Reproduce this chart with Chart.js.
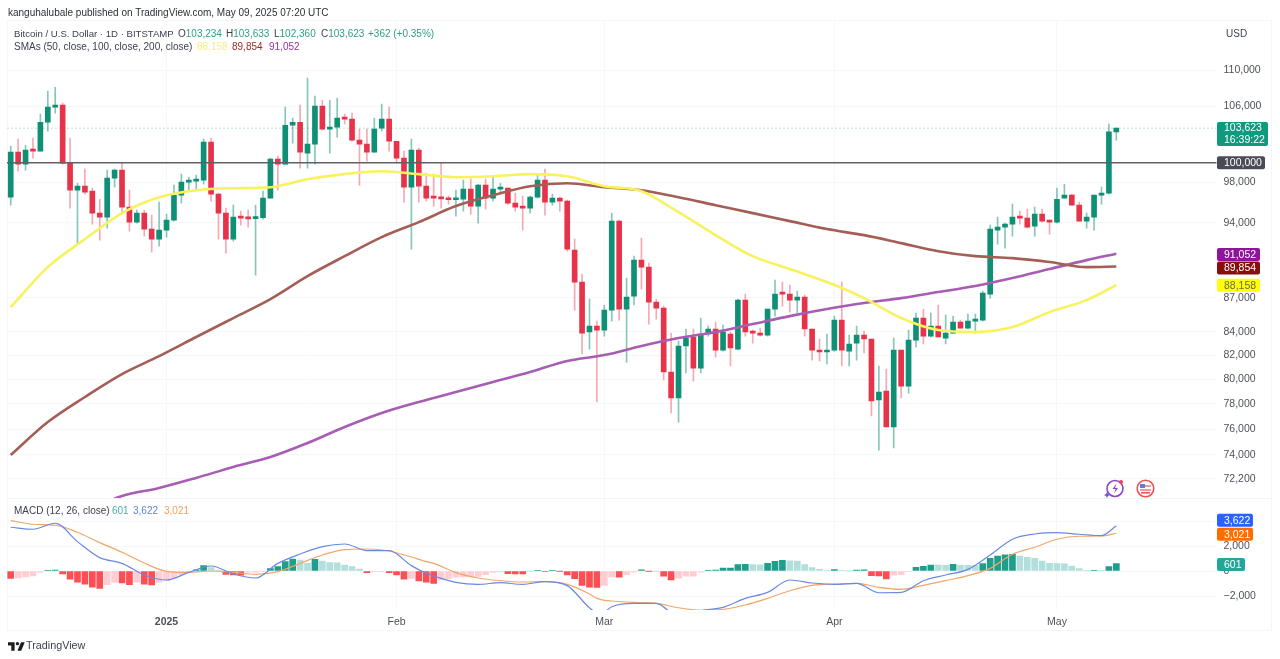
<!DOCTYPE html>
<html lang="en">
<head>
<meta charset="utf-8">
<title>BTC/USD daily</title>
<script src="https://cdn.jsdelivr.net/npm/chart.js@4"></script>
<style>
    html, body { margin: 0; padding: 0; background: #fff; }
    #page { position: relative; width: 1280px; height: 659px; overflow: hidden; font-family: "Liberation Sans", Arial, sans-serif; color: #3d4150; filter: blur(0.35px); }
    #page canvas { position: absolute; left: 0; }
    #priceChart { top: 20px; }
    #macdChart { top: 498px; }
    .txt { position: absolute; white-space: pre; font-size: 10px; line-height: 13px; }
    .up { color: #2f9e85; }
    #frame { position: absolute; left: 7px; top: 20px; width: 1265px; height: 611px; border: 1px solid #f5f6f8; box-sizing: border-box; }
    #divider { position: absolute; left: 7px; top: 498px; width: 1265px; height: 1px; background: #f2f3f6; }
    .icon { position: absolute; }
</style>
</head>
<body>
<div id="page">
    <div id="frame"></div>
    <canvas id="priceChart" width="1280" height="478"></canvas>
    <canvas id="macdChart" width="1280" height="133"></canvas>
    <div id="divider"></div>

    <div class="txt" style="left:8px;top:6px;color:#2c2f3a">kanguhalubale published on TradingView.com, May 09, 2025 07:20 UTC</div>
    <div class="txt" style="left:14px;top:27px;font-size:9.6px">Bitcoin / U.S. Dollar · 1D · BITSTAMP</div>
    <div class="txt" style="left:178px;top:27px">O<span class="up">103,234</span></div>
    <div class="txt" style="left:226px;top:27px">H<span class="up">103,633</span></div>
    <div class="txt" style="left:274px;top:27px">L<span class="up">102,360</span></div>
    <div class="txt" style="left:321px;top:27px">C<span class="up">103,623</span></div>
    <div class="txt up" style="left:368px;top:27px">+362 (+0.35%)</div>
    <div class="txt" style="left:14px;top:40px">SMAs (50, close, 100, close, 200, close)</div>
    <div class="txt" style="left:197px;top:40px;color:#f4ef7a">88,158</div>
    <div class="txt" style="left:232px;top:40px;color:#9c2a2a">89,854</div>
    <div class="txt" style="left:269px;top:40px;color:#93319e">91,052</div>
    <div class="txt" style="left:1226px;top:27px">USD</div>
    <div class="txt" style="left:14px;top:504px">MACD (12, 26, close)</div>
    <div class="txt" style="left:112px;top:504px;color:#45b3a3">601</div>
    <div class="txt" style="left:133px;top:504px;color:#5f7fdc">3,622</div>
    <div class="txt" style="left:164px;top:504px;color:#f0a060">3,021</div>
    <div class="txt" style="left:26px;top:639px;font-size:10.8px">TradingView</div>

    <svg class="icon" style="left:8px;top:641px" width="17" height="10" viewBox="0 0 36 20">
        <path d="M14 20H7V9H0V2h14v18zM28 20h-8l7.5-18h8L28 20z" fill="#1a1d26"/><circle cx="20" cy="5" r="3.6" fill="#1a1d26"/>
    </svg>
    <svg class="icon" style="left:1104px;top:478px" width="21" height="21" viewBox="0 0 21 21">
        <circle cx="11" cy="10.5" r="8" fill="#fff" stroke="#8e44c9" stroke-width="1.6"/>
        <path d="M12.5 5.5L8.5 11h3l-1.5 4.5 4-5.5h-3z" fill="#8e44c9"/>
        <circle cx="17" cy="4" r="2" fill="#ef3f5a"/><path d="M3 14l1 2 2 1-2 1-1 2-1-2-2-1 2-1z" fill="#7a4fd6"/>
    </svg>
    <svg class="icon" style="left:1136px;top:479px" width="19" height="19" viewBox="0 0 19 19">
        <circle cx="9.5" cy="9.5" r="8.3" fill="#fff" stroke="#ef5350" stroke-width="1.6"/>
        <rect x="4" y="6" width="11" height="2" fill="#ef9a9a"/><rect x="4" y="10" width="11" height="2" fill="#ef9a9a"/>
        <rect x="4" y="5" width="5" height="4" fill="#5c7fd8"/><rect x="5" y="13" width="9" height="1.6" fill="#ef5350"/>
    </svg>
</div>

<script>
// --- datos ---
const firstDay = Date.UTC(2024, 11, 11);
const totalSlots = 163;   // 150 velas + hueco a la derecha
const days = [];
for (let d = 0; d < totalSlots; d++) {
    days.push(new Date(firstDay + d * 86400000).toISOString().slice(0, 10));
}
const monthLabels = { '2025-01-01': '2025', '2025-02-01': 'Feb', '2025-03-01': 'Mar', '2025-04-01': 'Apr', '2025-05-01': 'May' };

const opens = [
    96510,101090,99850,101300,101200,104260,105890,106110,99950,97210,
    97610,97110,94940,94550,98420,99240,95530,94060,94940,93390,
    92430,93290,94260,96710,98020,98120,98220,102140,96810,94940,
    92430,94550,94450,94400,94500,96410,100370,99850,103940,104260,
    100990,101930,106000,103520,103730,104700,104590,102350,101930,101090,
    103620,104590,102240,100470,97510,101300,97610,96510,96450,96350,
    96260,96310,97310,95630,97710,96410,97310,97410,95920,95630,
    95430,96510,98220,96020,96410,96120,91390,88430,83990,84510,
    84160,85910,94160,86000,87160,90450,89800,86620,86090,80600,
    78470,82790,83560,80930,83820,84250,82440,83820,82530,86800,
    84070,83900,83730,86000,87430,87340,86800,87070,84250,82440,
    82280,82440,85030,82360,83040,83730,83390,78310,79040,76160,
    82440,79440,83300,85210,83640,84510,83470,83900,84860,84330,
    84940,85030,87340,93290,93580,93870,94550,94450,93680,94840,
    94160,94060,96410,96710,95720,94160,94550,96710,96910,103234
];
const closes = [
    101090,99850,101300,101200,104260,105890,106050,99950,97210,97610,
    97010,94940,94550,98420,99240,95530,94060,94940,93390,92430,
    93290,94260,96710,98020,98120,98220,102140,96810,94940,92430,
    94550,94450,94380,94500,96410,100370,99850,103940,104260,101090,
    101930,106000,103520,103730,104700,104590,102350,101930,101090,103520,
    104590,102240,100470,97510,101300,97610,96410,96410,96350,96260,
    96350,97310,95630,97710,96410,97310,97360,95920,95530,95430,
    96510,98220,96020,96410,96120,91480,88430,83900,84510,84160,
    85910,94160,86000,87070,90450,89800,86620,86090,80600,78470,
    82790,83470,80930,83820,84250,82440,83990,82620,86800,83990,
    83900,83730,86000,87340,87340,86800,87070,84250,82440,82280,
    82440,85030,82440,82960,83730,83390,78230,78960,76160,82440,
    79440,83300,85210,83640,84510,83560,83900,84860,84330,84940,
    85030,87430,93390,93580,93870,94550,94450,93580,94840,94160,
    94060,96310,96710,95720,94160,94550,96710,96910,103230,103623
];
const highs = [
    101720,102460,101820,102560,105130,107650,108090,106330,102560,97910,
    99340,97410,96310,99240,99340,99950,97210,95230,95230,94740,
    96020,94840,97710,98830,98520,98730,102460,102560,96910,95430,
    95720,95130,95230,95720,97110,100470,100680,105890,104700,106110,
    109100,107100,106650,106650,106880,105130,105240,103520,103520,104700,
    106220,105890,102240,101200,102460,101510,98930,98830,99950,96610,
    97210,98220,98320,97810,98320,98620,97910,97410,96910,96610,
    96610,98730,99340,96810,96510,96220,92430,89160,86890,84940,
    86360,94940,94260,88790,90820,92530,90170,86890,86270,83900,
    83210,84250,84250,85210,84510,84860,84590,83990,86890,87340,
    84160,84330,86000,88610,88430,88160,87610,87250,84250,83390,
    83820,85380,88430,83730,84510,84070,83390,81100,80850,83470,
    82440,84160,85650,86000,85650,86360,85470,85380,85030,85560,
    85560,87610,93770,94550,93970,95820,95130,95330,95530,95330,
    94260,97410,97810,96810,96020,94940,96710,97510,104050,103633
];
const lows = [
    95720,99130,99240,100470,101200,103300,105240,99850,95430,91950,
    96810,93870,92330,93480,97510,94940,93190,93970,92720,91200,
    91760,92620,94160,95920,97110,97210,97810,96120,92430,91100,
    92240,93770,93580,89070,94350,96410,97210,99850,102030,99440,
    99440,99850,103410,100990,102670,104050,102240,97710,100160,101090,
    103300,101200,100060,96020,91480,96020,96120,95630,95430,95820,
    94650,95130,94840,93970,95330,96120,96910,95820,95130,93290,
    94940,96410,94740,95720,95130,91290,85910,82110,82530,78150,
    83640,84940,85030,81430,86360,87790,84680,85120,79940,77270,
    76550,80520,79850,80520,83640,81850,82360,81100,82450,83640,
    83040,83640,83640,85380,86270,85730,85650,83640,81600,81520,
    81270,82360,81100,81100,81600,82190,77030,74370,76160,74530,
    78470,78870,82700,82960,83560,83560,82960,83900,84330,84250,
    83900,84940,86980,91950,91580,92720,93870,93480,92720,94060,
    92910,93970,96410,95720,94160,93480,93290,95820,96810,102360
];

// medias moviles, leidas cada 5 velas
const smaIndex = [0,5,10,15,20,25,30,35,40,45,50,55,60,65,70,75,80,85,90,95,100,105,110,115,120,125,130,135,140,145,149];
const sma50 = [86180,89800,92430,94940,96510,97210,97410,97510,98320,98830,99130,98830,98520,98620,98830,98620,97610,97110,95030,92810,90820,89620,88430,86980,85210,84160,83990,84420,85730,86800,88158];
const sma100 = [74000,76550,78550,80430,81930,83560,85210,86890,88970,90820,92620,94060,95630,96710,97610,97910,97510,97210,96510,95720,94940,94160,93390,92810,92050,91290,90820,90640,90270,89800,89854];
const sma200 = [null,null,69820,70930,71520,72270,73090,73840,74910,76160,77270,78150,78960,79770,80600,81520,82020,82790,83470,83990,84680,85380,86000,86540,86980,87520,88070,88790,89620,90450,91052];

const macdHist = [
    -590,-550,-480,-400,-100,30,80,-240,-650,-900,
    -1050,-1300,-1400,-1100,-900,-960,-1100,-900,-1050,-1120,
    -900,-750,-550,-300,-100,100,430,270,60,-270,
    -320,-330,-100,-90,-50,190,350,750,960,880,
    610,930,800,670,660,480,350,160,-140,-30,
    -25,-130,-320,-650,-600,-800,-900,-1000,-720,-600,
    -500,-470,-450,-430,-300,-120,-50,-220,-230,-240,
    -20,30,-20,20,-10,-320,-620,-1150,-1300,-1320,
    -1150,-480,-500,-300,-90,100,-10,-5,-420,-720,
    -580,-420,-410,-90,60,80,230,240,520,530,
    510,500,620,770,850,820,800,520,280,130,
    50,120,20,10,80,90,-370,-400,-640,-340,
    -300,-20,300,370,480,470,460,530,480,460,
    430,590,1010,1200,1300,1330,1200,1100,1010,800,
    610,590,580,400,190,50,60,30,350,601
];
const macdIndex = [0,3,6,9,12,15,18,21,24,27,30,33,36,39,42,45,48,51,54,56,57,60,63,66,69,72,75,78,79,80,81,84,87,90,93,96,99,102,105,108,111,114,117,120,123,126,129,132,135,138,141,144,147,149];
const macdLine = [3500,3340,3820,2350,1070,610,-320,-720,-110,400,-240,-560,610,1360,1950,2160,1630,1630,430,-190,-400,-910,-1070,-930,-1070,-850,-1170,-2940,-3310,-3260,-2860,-2590,-2590,-3660,-3180,-2910,-2190,-1710,-720,-960,-1070,-990,-1740,-1710,-780,-320,130,1280,2540,2960,3070,2940,2830,3622];
const signalLine = [4030,3740,3660,3100,2270,1500,640,-30,-110,0,-110,-270,-50,610,1280,1710,1760,1600,1120,750,610,-130,-560,-770,-880,-850,-1070,-1840,-2190,-2350,-2400,-2510,-2590,-2940,-3150,-3070,-2720,-2190,-1580,-1150,-1040,-990,-1310,-1470,-1150,-770,-370,210,1340,1900,2540,2780,2800,3021];

const priceTicks = [110000,106000,98000,94000,87000,84000,82000,80000,78000,76000,74000,72200];
const macdTicks = [-2000,0,2000,4000];

const priceLine = 100000;
const lastPrice = 103623;
const lastCountdown = '16:39:22';

// --- constantes de estilo ---
const GREEN = '#0f9075';
const RED = '#e7334a';
const GRID = '#f6f7f9';
const TICK_COLOR = '#4d515c';
const FONT = '"Liberation Sans", Arial, sans-serif';
const PLOT_RIGHT = 1216.5;
const fmt = v => Math.abs(v).toLocaleString('en-US');

// --- helpers ---
function linePoints(index, values) {
    return index.map((d, k) => ({ x: days[d], y: values[k] })).filter(p => p.y !== null);
}

function histColor(v, i) {
    const prev = i > 0 ? macdHist[i - 1] : v;
    if (v >= 0) return v >= prev ? '#1f9e8b' : '#b2dfdb';
    return v <= prev ? '#fb4f55' : '#ffcdd2';
}

function drawTag(ctx, tag, y) {
    ctx.fillStyle = tag.bg;
    ctx.beginPath();
    ctx.roundRect(1217, y - tag.h / 2, tag.w, tag.h, 2);
    ctx.fill();
    ctx.fillStyle = tag.fg || '#fff';
    ctx.font = '10.5px ' + FONT;
    ctx.textAlign = 'left';
    ctx.textBaseline = 'middle';
    ctx.fillText(tag.text, 1224, tag.sub ? y - 5.5 : y + 0.5);
    if (tag.sub) ctx.fillText(tag.sub, 1224, y + 6);
}

// eje x comun: un tick por mes, sin margenes extra
function monthAxis(showLabels, height) {
    return {
        type: 'category',
        offset: true,
        grid: { color: GRID, offset: false, drawTicks: false },
        border: { display: false },
        ticks: {
            display: showLabels,
            autoSkip: false,
            maxRotation: 0,
            padding: 6,
            color: TICK_COLOR,
            font: ctx => ({ family: FONT, size: 10.5, weight: ctx.tick && ctx.tick.label === '2025' ? 'bold' : 'normal' }),
            callback(value) { return monthLabels[this.getLabelForValue(value)] || ''; }
        },
        afterBuildTicks(scale) {
            scale.ticks = scale.ticks.filter(t => monthLabels[scale.getLabelForValue(t.value)]);
        },
        afterFit(scale) {
            scale.height = height;
            scale.paddingLeft = 0;
            scale.paddingRight = 0;
        }
    };
}

function valueAxis(extra, ticks, labelFn) {
    return Object.assign({
        position: 'right',
        grid: { color: GRID, drawTicks: false },
        border: { display: false },
        ticks: {
            autoSkip: false,
            crossAlign: 'near',
            padding: 7,
            color: TICK_COLOR,
            font: { family: FONT, size: 10.5 },
            callback: labelFn
        },
        afterBuildTicks(scale) { scale.ticks = ticks.map(v => ({ value: v })); },
        afterFit(scale) {
            scale.width = 1280 - PLOT_RIGHT;
            scale.paddingTop = 0;
            scale.paddingBottom = 0;
        }
    }, extra);
}

const baseOptions = {
    responsive: false,
    animation: false,
    events: [],
    layout: { padding: { left: 7, right: 0, top: 0, bottom: 0 } },
    plugins: { legend: { display: false }, tooltip: { enabled: false } }
};

// linea horizontal de 100,000, linea punteada del ultimo precio y etiquetas del eje
const priceMarks = {
    id: 'priceMarks',
    beforeDatasetsDraw(chart) {
        const { ctx, chartArea, scales } = chart;
        ctx.save();
        ctx.strokeStyle = '#bfe0d8';
        ctx.setLineDash([2, 2]);
        ctx.lineWidth = 1;
        ctx.beginPath();
        ctx.moveTo(chartArea.left, scales.y.getPixelForValue(lastPrice));
        ctx.lineTo(chartArea.right, scales.y.getPixelForValue(lastPrice));
        ctx.stroke();
        ctx.restore();
    },
    afterDraw(chart) {
        const { ctx, chartArea, scales } = chart;
        const y100 = scales.y.getPixelForValue(priceLine);
        ctx.save();
        ctx.strokeStyle = '#5f6068';
        ctx.lineWidth = 1.6;
        ctx.beginPath();
        ctx.moveTo(chartArea.left, y100);
        ctx.lineTo(chartArea.right, y100);
        ctx.stroke();
        const tags = [
            { value: lastPrice, shift: 5.8, text: fmt(lastPrice), sub: lastCountdown, bg: '#0f9a7d', w: 51, h: 24 },
            { value: priceLine, shift: 0, text: fmt(priceLine), bg: '#4a4b57', w: 48, h: 13 },
            { value: sma200[sma200.length - 1], shift: 0.8, text: '91,052', bg: '#8e1599', w: 43, h: 13 },
            { value: sma100[sma100.length - 1], shift: 1.4, text: '89,854', bg: '#880e0e', w: 43, h: 13 },
            { value: sma50[sma50.length - 1], shift: 0.3, text: '88,158', bg: '#ffff00', fg: '#6a6a55', w: 43, h: 13 }
        ];
        tags.forEach(t => drawTag(ctx, t, scales.y.getPixelForValue(t.value) + t.shift));
        ctx.restore();
    }
};

const macdMarks = {
    id: 'macdMarks',
    afterDraw(chart) {
        const { ctx, scales } = chart;
        ctx.save();
        const lastHist = macdHist[macdHist.length - 1];
        const lastMacd = macdLine[macdLine.length - 1];
        const lastSignal = signalLine[signalLine.length - 1];
        const tags = [
            { value: lastMacd, shift: -5.5, text: fmt(lastMacd), bg: '#2962ff', w: 36, h: 13 },
            { value: lastSignal, shift: 1, text: fmt(lastSignal), bg: '#ff6d00', w: 36, h: 13 },
            { value: lastHist, shift: 1, text: fmt(lastHist), bg: '#26a69a', w: 28, h: 13 }
        ];
        tags.forEach(t => drawTag(ctx, t, scales.y.getPixelForValue(t.value) + t.shift));
        ctx.restore();
    }
};

// --- grafico de precio ---
const candleRange = closes.map((_, i) => i);
new Chart(document.getElementById('priceChart'), {
    type: 'bar',
    plugins: [priceMarks],
    data: {
        labels: days,
        datasets: [
            {
                // mechas
                data: candleRange.map(i => [lows[i], highs[i]]),
                backgroundColor: candleRange.map(i => closes[i] >= opens[i] ? 'rgba(15,144,117,0.5)' : 'rgba(231,51,74,0.42)'),
                barThickness: 1,
                grouped: false,
                order: 3
            },
            {
                // cuerpos
                data: candleRange.map(i => [opens[i], closes[i]]),
                backgroundColor: candleRange.map(i => closes[i] >= opens[i] ? GREEN : RED),
                barThickness: 5,
                minBarLength: 2,
                grouped: false,
                order: 2
            },
            { type: 'line', data: linePoints(smaIndex, sma50), borderColor: '#f7f25e', borderWidth: 2.6, pointRadius: 0, cubicInterpolationMode: 'monotone', order: 1 },
            { type: 'line', data: linePoints(smaIndex, sma100), borderColor: '#a45e55', borderWidth: 2.6, pointRadius: 0, cubicInterpolationMode: 'monotone', order: 1 },
            { type: 'line', data: linePoints(smaIndex, sma200), borderColor: '#a75db3', borderWidth: 2.6, pointRadius: 0, cubicInterpolationMode: 'monotone', order: 1 }
        ]
    },
    options: {
        ...baseOptions,
        scales: {
            x: monthAxis(false, 0),
            y: valueAxis({ type: 'logarithmic', min: 70788, max: 115843 }, priceTicks, v => fmt(v))
        }
    }
});

// --- grafico MACD ---
new Chart(document.getElementById('macdChart'), {
    type: 'bar',
    plugins: [macdMarks],
    data: {
        labels: days,
        datasets: [
            {
                data: macdHist,
                backgroundColor: macdHist.map(histColor),
                barThickness: 6,
                order: 2
            },
            { type: 'line', data: linePoints(macdIndex, macdLine), borderColor: '#6a8ae0', borderWidth: 1.2, pointRadius: 0, cubicInterpolationMode: 'monotone', order: 1 },
            { type: 'line', data: linePoints(macdIndex, signalLine), borderColor: '#f2a669', borderWidth: 1.2, pointRadius: 0, cubicInterpolationMode: 'monotone', order: 1 }
        ]
    },
    options: {
        ...baseOptions,
        scales: {
            x: monthAxis(true, 21),
            y: valueAxis({ type: 'linear', min: -3120, max: 5840 }, macdTicks, v => v === 4000 ? '' : (v < 0 ? '\u2212' : '') + fmt(v))
        }
    }
});
</script>
</body>
</html>
